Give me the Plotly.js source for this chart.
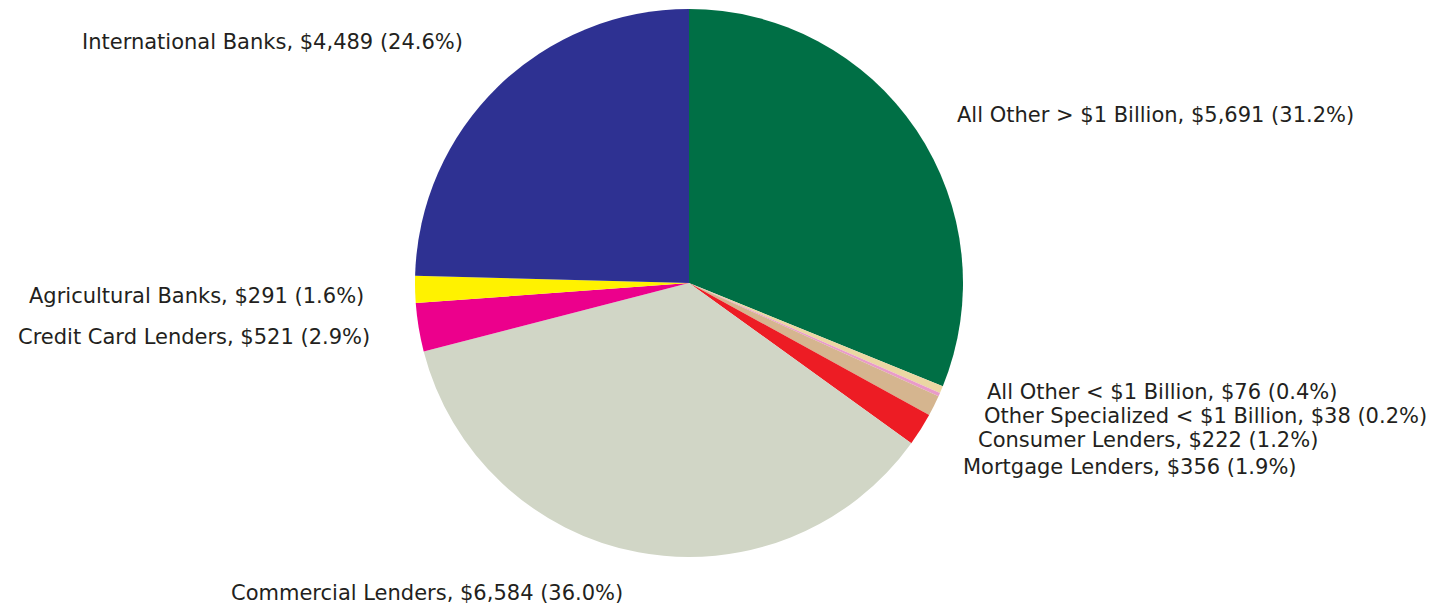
<!DOCTYPE html>
<html>
<head>
<meta charset="utf-8">
<script src="https://cdn.plot.ly/plotly-3.0.1.min.js"></script>
<style>html,body{margin:0;padding:0;background:#fff;}#chart{width:1432px;height:605px;}</style>
</head>
<body>
<div id="chart"></div>
<script>
// Data
const categories = [
  "All Other > $1 Billion",
  "All Other < $1 Billion",
  "Other Specialized < $1 Billion",
  "Consumer Lenders",
  "Mortgage Lenders",
  "Commercial Lenders",
  "Credit Card Lenders",
  "Agricultural Banks",
  "International Banks"
];
const values = [5691, 76, 38, 222, 356, 6584, 521, 291, 4489];
const colors = ["#006F45", "#EBD7A3", "#E99BC9", "#D5B58F", "#ED1C24", "#D1D6C6", "#EC008C", "#FFF200", "#2E3192"];

// Label placement (paper pixels, layout only)
const labelPos = [
  {x: 955, y: 115, anchor: "left"},
  {x: 985, y: 392, anchor: "left"},
  {x: 982, y: 416, anchor: "left"},
  {x: 976, y: 440, anchor: "left"},
  {x: 961, y: 467, anchor: "left"},
  {x: 229, y: 593, anchor: "left"},
  {x: 372, y: 337, anchor: "right"},
  {x: 366, y: 296, anchor: "right"},
  {x: 465, y: 42, anchor: "right"}
];

const W = 1432, H = 605;
const total = values.reduce((a, b) => a + b, 0);
const fmt = v => "$" + v.toLocaleString("en-US");
const annotations = categories.map((c, i) => ({
  text: c + ", " + fmt(values[i]) + " (" + (values[i] / total * 100).toFixed(1) + "%)",
  xref: "paper", yref: "paper",
  x: labelPos[i].x / W, y: 1 - labelPos[i].y / H,
  xanchor: labelPos[i].anchor, yanchor: "middle",
  showarrow: false,
  font: {family: "DejaVu Sans, Liberation Sans, Arial, sans-serif", size: 21, color: "#231F20"}
}));

const cx = 689, cy = 283, r = 274;
const trace = {
  type: "pie",
  labels: categories,
  values: values,
  sort: false,
  direction: "clockwise",
  rotation: 0,
  marker: {colors: colors, line: {width: 0}},
  textinfo: "none",
  hoverinfo: "label+value+percent",
  domain: {x: [(cx - r) / W, (cx + r) / W], y: [1 - (cy + r) / H, 1 - (cy - r) / H]}
};

const layout = {
  width: W, height: H,
  margin: {l: 0, r: 0, t: 0, b: 0},
  showlegend: false,
  paper_bgcolor: "#ffffff",
  annotations: annotations
};

Plotly.newPlot("chart", [trace], layout, {displayModeBar: false, staticPlot: true});
</script>
</body>
</html>
